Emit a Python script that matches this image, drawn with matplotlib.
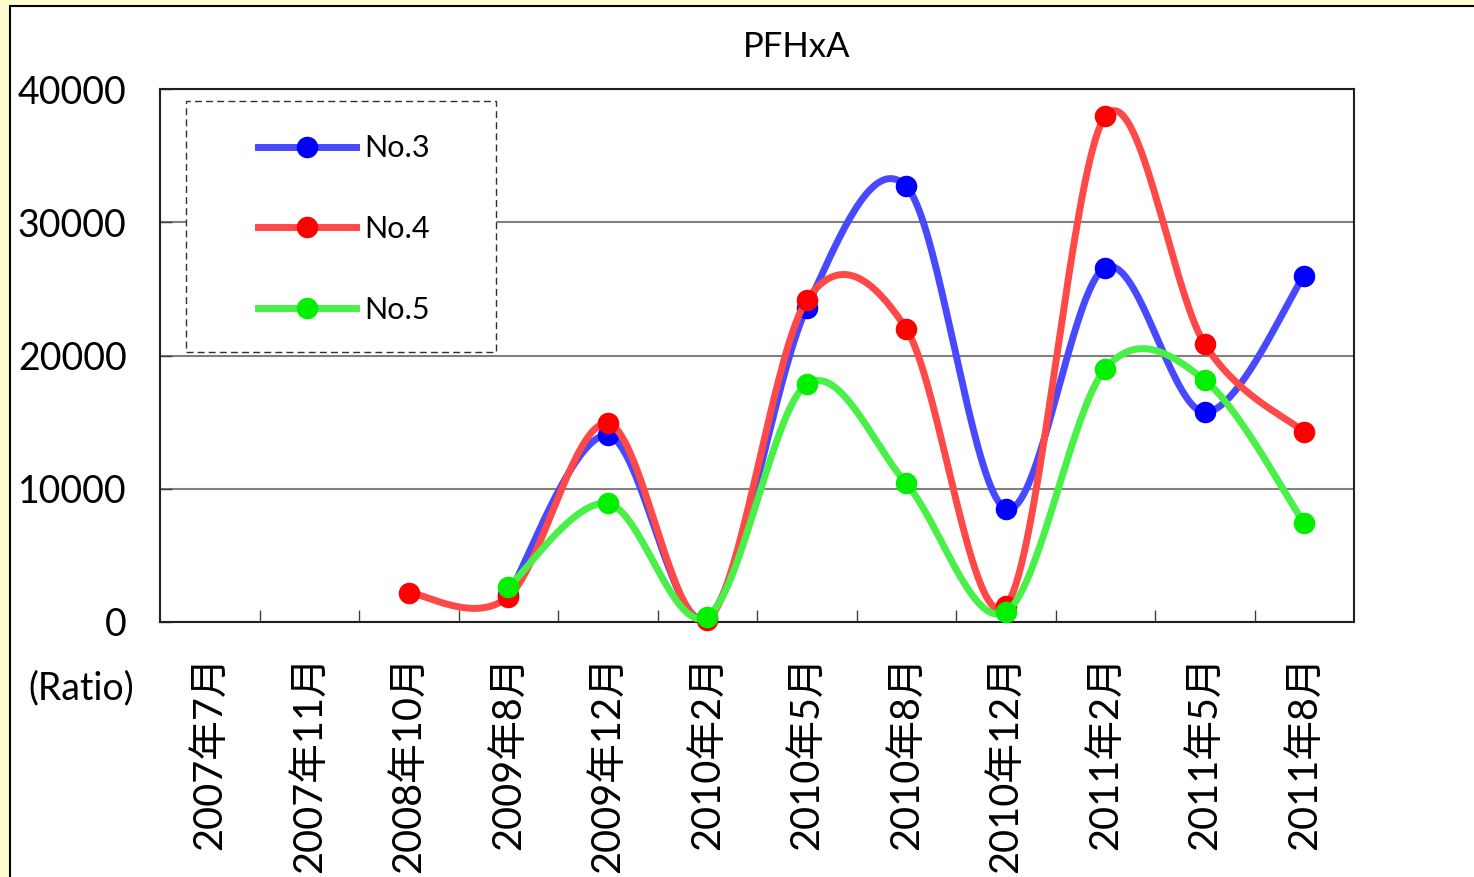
import numpy as np
import matplotlib
matplotlib.use("Agg")
import matplotlib.pyplot as plt
from matplotlib.patches import Rectangle
from matplotlib.lines import Line2D

plt.rcParams['font.family'] = ['Lato', 'Noto Sans CJK JP', 'DejaVu Sans']

# ---------------- data ----------------
categories = ["2007年7月", "2007年11月", "2008年10月", "2009年8月", "2009年12月",
              "2010年2月", "2010年5月", "2010年8月", "2010年12月", "2011年2月",
              "2011年5月", "2011年8月"]
no3 = [None, None, None, 2000, 14000, 300, 23600, 32700, 8500, 26600, 15750, 26000]
no4 = [None, None, 2200, 1900, 14900, 150, 24150, 22000, 1200, 37950, 20850, 14250]
no5 = [None, None, None, 2600, 8900, 400, 17850, 10400, 750, 19000, 18150, 7400]
series_names = ["No.3", "No.4", "No.5"]
yticks = [0, 10000, 20000, 30000, 40000]
title = "PFHxA"
unit_label = "(Ratio)"

line_colors = ["#4848FF", "#FF4848", "#48F048"]
marker_colors = ["#0000FF", "#FF0000", "#00F000"]

W, H = 1474, 877
fig = plt.figure(figsize=(W / 100, H / 100), dpi=100)
fig.patch.set_facecolor("#FFFDD0")

# white chart panel
panel = Rectangle((10 / W, -0.01), 1.0, 1.01 - 6 / H, transform=fig.transFigure,
                  facecolor="white", edgecolor="black", linewidth=1.5, zorder=-10)
fig.patches.append(panel)

ax = fig.add_axes([160 / W, 1 - 622 / H, 1194 / W, 533 / H])
ax.set_facecolor("white")


def smooth_curve(xs, ys, n=40):
    """Excel-style smoothed line (Catmull-Rom Bezier) through the points."""
    P = np.column_stack([xs, ys]).astype(float)
    out = []
    m = len(P)
    for i in range(m - 1):
        p0 = P[i]
        p3 = P[i + 1]
        prev = P[i - 1] if i > 0 else P[i]
        nxt = P[i + 2] if i + 2 < m else P[i + 1]
        c1 = p0 + (p3 - prev) / 6.0
        c2 = p3 - (nxt - p0) / 6.0
        t = np.linspace(0, 1, n)[:, None]
        seg = ((1 - t) ** 3) * p0 + 3 * ((1 - t) ** 2) * t * c1 + 3 * (1 - t) * t ** 2 * c2 + t ** 3 * p3
        if i > 0:
            seg = seg[1:]
        out.append(seg)
    out = np.vstack(out)
    return out[:, 0], out[:, 1]


LW = 5.0
MS = 15.5
x_all = np.arange(len(categories))
for k, (vals, lc, mc) in enumerate(zip([no3, no4, no5], line_colors, marker_colors)):
    idx = [i for i, v in enumerate(vals) if v is not None]
    xs = x_all[idx]
    ys = np.array([vals[i] for i in idx], dtype=float)
    sx, sy = smooth_curve(xs, ys)
    ax.plot(sx, sy, color=lc, linewidth=LW, solid_capstyle="butt", zorder=3 + 2 * k)
    ax.plot(xs, ys, linestyle="none", marker="o", markersize=MS, color=mc,
            markeredgewidth=0, zorder=4 + 2 * k, clip_on=False)

ax.set_xlim(-0.5, len(categories) - 0.5)
ax.set_ylim(0, 40000)
ax.set_yticks(yticks)
ax.set_yticklabels([str(v) for v in yticks], fontsize=27)
ax.set_xticks(x_all)
ax.set_xticklabels(categories, rotation=90, fontsize=28.5, va="top", ha="center")
ax.set_xticks(np.arange(0.5, len(categories) - 1, 1.0), minor=True)
ax.tick_params(axis="x", which="major", length=0, pad=24)
ax.tick_params(axis="x", which="minor", direction="in", length=8.6, width=1, color="#404040")
ax.tick_params(axis="y", which="major", direction="in", length=8.6, width=1, pad=24, color="#404040")
for t in ax.get_yticklabels():
    t.set_va("center_baseline")

ax.grid(axis="y", color="#808080", linewidth=1.5, zorder=1)
ax.set_axisbelow(True)
for side in ["left", "bottom", "top", "right"]:
    ax.spines[side].set_color("#202020")
    ax.spines[side].set_linewidth(1.5)

fig.text(797 / W, 1 - 47 / H, title, fontsize=25, ha="center", va="center")
fig.text(81 / W, 1 - 688 / H, unit_label, fontsize=27, ha="center", va="center")

# legend
ax.add_patch(Rectangle((186 / W, 1 - 352 / H), 310 / W, 251 / H, transform=fig.transFigure,
                       facecolor="white", edgecolor="#303030", linewidth=1.0,
                       linestyle=(0, (5, 3)), zorder=15, clip_on=False))
handles = [Line2D([], [], color=lc, linewidth=LW, marker="o", markersize=MS,
                  markerfacecolor=mc, markeredgewidth=0)
           for lc, mc in zip(line_colors, marker_colors)]
leg = ax.legend(handles, series_names, loc="center",
                bbox_to_anchor=(344 / W, 1 - 229 / H), bbox_transform=fig.transFigure,
                frameon=False, fontsize=22, handlelength=3.2, handletextpad=0.25,
                labelspacing=1.72, borderpad=0)
leg.set_zorder(20)

fig.savefig("out.png", dpi=100, facecolor=fig.get_facecolor())
